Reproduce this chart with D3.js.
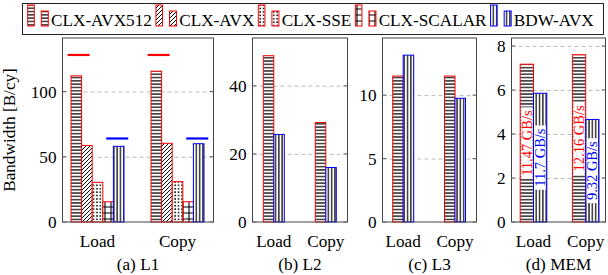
<!DOCTYPE html>
<html>
<head>
<meta charset="utf-8">
<script src="https://cdnjs.cloudflare.com/ajax/libs/d3/7.8.5/d3.min.js"></script>
<style>
body { margin: 0; background: #fff; }
</style>
</head>
<body>
<div id="chart"></div>
<script>
// Data
var groups = ['Load', 'Copy'];
var seriesNames = ['CLX-AVX512', 'CLX-AVX', 'CLX-SSE', 'CLX-SCALAR', 'BDW-AVX'];

var l1Load = [112, 58.7, 30.4, 15.5, 58];
var l1Copy = [115.6, 60.3, 30.9, 15.5, 60];
var l1PeakClx = [128, 128];
var l1PeakBdw = [64, 64];

var l2Series = ['CLX-AVX512', 'BDW-AVX'];
var l2Load = [48.8, 25.7];
var l2Copy = [29.2, 16];

var l3Series = ['CLX-AVX512', 'BDW-AVX'];
var l3Load = [11.5, 13.15];
var l3Copy = [11.5, 9.75];

var memSeries = ['CLX-AVX512', 'BDW-AVX'];
var memLoad = [7.17, 5.85];
var memCopy = [7.6, 4.66];
var memLoadLabels = ['11.47 GB/s', '11.7 GB/s'];
var memCopyLabels = ['12.16 GB/s', '9.32 GB/s'];

var l1Ticks = [0, 50, 100];
var l2Ticks = [0, 20, 40];
var l3Ticks = [0, 5, 10];
var memTicks = [0, 2, 4, 6, 8];

// Styles per series
var seriesStyle = {
	'CLX-AVX512': { color: 'red', pattern: 'hlines' },
	'CLX-AVX': { color: 'red', pattern: 'nelines' },
	'CLX-SSE': { color: 'red', pattern: 'dots' },
	'CLX-SCALAR': { color: 'red', pattern: 'grid' },
	'BDW-AVX': { color: 'blue', pattern: 'vlines' }
};

var FONT = 17.2;
var SERIF = '"Liberation Serif", "Times New Roman", "DejaVu Serif", serif';
var plotTop = 38;
var plotBottom = 222;

var svg = d3.select('#chart')
	.append('svg')
	.attr('width', 608)
	.attr('height', 275)
	.attr('font-family', SERIF)
	.style('font-family', SERIF);

/*
 * Patterns
 */
var defs = svg.append('defs');

defs.append('pattern').attr('id', 'hlines')
	.attr('patternUnits', 'userSpaceOnUse').attr('width', 8).attr('height', 3.3)
	.append('path').attr('d', 'M0,1.65H8').attr('stroke', '#000').attr('stroke-width', 1.2);

defs.append('pattern').attr('id', 'vlines')
	.attr('patternUnits', 'userSpaceOnUse').attr('width', 3.3).attr('height', 8)
	.append('path').attr('d', 'M1.65,0V8').attr('stroke', '#000').attr('stroke-width', 1.2);

defs.append('pattern').attr('id', 'nelines')
	.attr('patternUnits', 'userSpaceOnUse').attr('width', 4).attr('height', 4)
	.append('path').attr('d', 'M-1,1L1,-1M0,4L4,0M3,5L5,3').attr('stroke', '#000').attr('stroke-width', 1);

defs.append('pattern').attr('id', 'dots')
	.attr('patternUnits', 'userSpaceOnUse').attr('width', 3.4).attr('height', 3.4)
	.append('rect').attr('x', 1).attr('y', 1).attr('width', 1.5).attr('height', 1.5).attr('fill', '#000');

defs.append('pattern').attr('id', 'grid')
	.attr('patternUnits', 'userSpaceOnUse').attr('width', 6).attr('height', 6)
	.append('path').attr('d', 'M0,3H6M3,0V6').attr('stroke', '#000').attr('stroke-width', 1.1);

/*
 * Legend
 */
var legend = svg.append('g').attr('class', 'legend');
legend.append('rect')
	.attr('x', 22.5).attr('y', 3.5).attr('width', 581).attr('height', 31)
	.attr('fill', '#fff').attr('stroke', '#222').attr('stroke-width', 1);

var lx = 27.7;
seriesNames.forEach(function(name) {
	var st = seriesStyle[name];
	[[lx, 5, 6.6, 21], [lx + 13.6, 11, 7, 15]].forEach(function(r) {
		legend.append('rect').attr('x', r[0]).attr('y', r[1]).attr('width', r[2]).attr('height', r[3]).attr('fill', '#fff');
		legend.append('rect').attr('x', r[0]).attr('y', r[1]).attr('width', r[2]).attr('height', r[3])
			.attr('fill', 'url(#' + st.pattern + ')').attr('stroke', st.color).attr('stroke-width', 1);
	});
	var t = legend.append('text')
		.attr('x', lx + 23.3).attr('y', 26)
		.style('font-size', FONT + 'px')
		.text(name);
	lx = lx + 23.3 + t.node().getComputedTextLength() + 4;
});

/*
 * Y axis title
 */
svg.append('text')
	.attr('transform', 'translate(15,130) rotate(-90)')
	.attr('text-anchor', 'middle')
	.style('font-size', FONT + 'px')
	.text('Bandwidth [B/cy]');

/*
 * Panels
 */
var renderPanel = function(config) {
	var g = svg.append('g').attr('class', 'panel');

	var xScale = d3.scalePoint()
		.domain(groups)
		.range([config.left + config.padL, config.right - config.padR]);

	var yScale = d3.scaleLinear()
		.domain([0, config.yMax])
		.range([plotBottom, plotTop]);

	var n = config.series.length;
	var offScale = d3.scaleBand()
		.domain(config.series)
		.range([-n * config.barWidth / 2, n * config.barWidth / 2])
		.padding(0);

	// grid
	g.append('g')
		.attr('class', 'y grid')
		.attr('transform', 'translate(' + config.left + ',0)')
		.call(d3.axisLeft(yScale).tickValues(config.ticks.filter(function(d) { return d > 0; }))
			.tickSize(-(config.right - config.left)).tickFormat(''))
		.call(function(s) {
			s.select('.domain').remove();
			s.selectAll('line').attr('stroke', '#bbb').attr('stroke-dasharray', '4,3');
		});

	// bars
	config.values.forEach(function(vals, gi) {
		vals.forEach(function(v, si) {
			var name = config.series[si];
			var st = seriesStyle[name];
			var x = xScale(groups[gi]) + offScale(name);
			var y = yScale(v);
			g.append('rect').attr('x', x).attr('y', y)
				.attr('width', offScale.bandwidth()).attr('height', yScale(0) - y).attr('fill', '#fff');
			g.append('rect').attr('x', x).attr('y', y)
				.attr('width', offScale.bandwidth()).attr('height', yScale(0) - y)
				.attr('fill', 'url(#' + st.pattern + ')')
				.attr('stroke', st.color).attr('stroke-width', 1);
		});
	});

	// peak lines
	if (config.peaks) {
		config.peaks.forEach(function(p) {
			groups.forEach(function(grp, gi) {
				var cx = xScale(grp) + offScale(config.series[0]) + (p.slot + 0.5) * offScale.bandwidth();
				g.append('line')
					.attr('x1', cx - 11).attr('x2', cx + 11)
					.attr('y1', yScale(p.values[gi])).attr('y2', yScale(p.values[gi]))
					.attr('stroke', p.color).attr('stroke-width', 2.2);
			});
		});
	}

	// labels inside bars
	if (config.labels) {
		config.labels.forEach(function(labs, gi) {
			labs.forEach(function(lab, si) {
				var name = config.series[si];
				var st = seriesStyle[name];
				var cx = xScale(groups[gi]) + offScale(name) + offScale.bandwidth() / 2;
				var cy = yScale(config.values[gi][si] / 2);
				var lg = g.append('g').attr('transform', 'translate(' + cx + ',' + cy + ') rotate(-90)');
				var bg = lg.append('rect').attr('fill', '#fff');
				var t = lg.append('text')
					.attr('text-anchor', 'middle')
					.attr('dy', '0.35em')
					.style('font-size', '14.5px')
					.attr('fill', st.color)
					.text(lab);
				var len = t.node().getComputedTextLength();
				bg.attr('x', -len / 2 - 3).attr('y', -offScale.bandwidth() / 2 + 1)
					.attr('width', len + 6).attr('height', offScale.bandwidth() - 2);
			});
		});
	}

	// axis box
	g.append('rect')
		.attr('x', config.left).attr('y', plotTop)
		.attr('width', config.right - config.left).attr('height', plotBottom - plotTop)
		.attr('fill', 'none').attr('stroke', '#444').attr('stroke-width', 1);

	// y ticks (inside, both sides) and labels
	config.ticks.forEach(function(t) {
		var y = yScale(t);
		g.append('line').attr('x1', config.left).attr('x2', config.left + 4)
			.attr('y1', y).attr('y2', y).attr('stroke', '#666');
		g.append('line').attr('x1', config.right - 4).attr('x2', config.right)
			.attr('y1', y).attr('y2', y).attr('stroke', '#666');
		g.append('text')
			.attr('x', config.left - 6).attr('y', y).attr('dy', '0.35em')
			.attr('text-anchor', 'end')
			.style('font-size', FONT + 'px')
			.text(t);
	});

	// x labels
	groups.forEach(function(grp) {
		g.append('text')
			.attr('x', xScale(grp)).attr('y', 246.5)
			.attr('text-anchor', 'middle')
			.style('font-size', FONT + 'px')
			.text(grp);
	});

	// caption
	g.append('text')
		.attr('x', (config.left + config.right) / 2).attr('y', 270)
		.attr('text-anchor', 'middle')
		.style('font-size', FONT + 'px')
		.text(config.caption);
};

renderPanel({
	left: 62.5, right: 213.5, padL: 35, padR: 36,
	yMax: 141, ticks: l1Ticks, barWidth: 10.6,
	series: seriesNames, values: [l1Load, l1Copy],
	peaks: [
		{ values: l1PeakClx, color: 'red', slot: 0.22 },
		{ values: l1PeakBdw, color: 'blue', slot: 3.86 }
	],
	caption: '(a) L1'
});

renderPanel({
	left: 252.5, right: 347.5, padL: 21.3, padR: 21.7,
	yMax: 54, ticks: l2Ticks, barWidth: 10.5,
	series: l2Series, values: [l2Load, l2Copy],
	caption: '(b) L2'
});

renderPanel({
	left: 382.5, right: 476.5, padL: 20.7, padR: 21.5,
	yMax: 14.5, ticks: l3Ticks, barWidth: 10.5,
	series: l3Series, values: [l3Load, l3Copy],
	caption: '(c) L3'
});

renderPanel({
	left: 511.5, right: 605.5, padL: 22, padR: 19.8,
	yMax: 8.36, ticks: memTicks, barWidth: 13.3,
	series: memSeries, values: [memLoad, memCopy],
	labels: [memLoadLabels, memCopyLabels],
	caption: '(d) MEM'
});
</script>
</body>
</html>
